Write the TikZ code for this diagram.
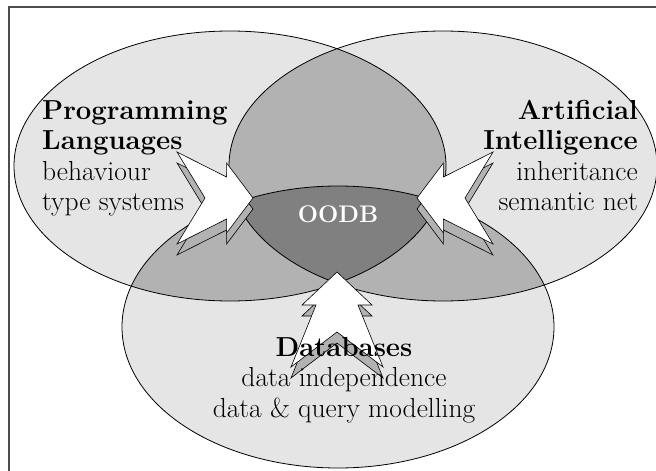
\documentclass[tikz,border=0pt]{standalone}
\usepackage{fontspec}
\usepackage{tikz}
\usetikzlibrary{math}
\definecolor{lightgrey}{gray}{0.9}
\definecolor{midgrey}{gray}{0.7}
\definecolor{darkgrey}{gray}{0.5}
\definecolor{framegrey}{gray}{0.3}
\tikzstyle{ring} = [draw=black, line width=0.8pt]
\tikzstyle{bolt} = [draw=black, line width=0.6pt, fill=white, line join=miter]
\tikzstyle{boltshadow} = [bolt, fill=midgrey]
\tikzstyle{lbl} = [inner sep=0pt, font=\fontsize{27.5}{30.5}\selectfont]

\begin{document}
\begin{tikzpicture}[x=1pt, y=-1pt]

  \tikzmath{\cxl = 230; \cxr = 443; \cxb = 338; \cyt = 166; \cyb = 327;}
  \tikzmath{\ra = 216; \rr = 214; \rb = 135; \rc = 141;}

  \useasboundingbox (0,0) rectangle (656,471);

  % the three rings
  \fill[lightgrey] (\cxl,\cyt) ellipse [x radius=\ra, y radius=\rb];
  \fill[lightgrey] (\cxr,\cyt) ellipse [x radius=\rr, y radius=\rb];
  \fill[lightgrey] (\cxb,\cyb) ellipse [x radius=\ra, y radius=\rc];

  % pairwise overlaps
  \begin{scope}
    \clip (\cxl,\cyt) ellipse [x radius=\ra, y radius=\rb];
    \fill[midgrey] (\cxr,\cyt) ellipse [x radius=\rr, y radius=\rb];
    \fill[midgrey] (\cxb,\cyb) ellipse [x radius=\ra, y radius=\rc];
  \end{scope}
  \begin{scope}
    \clip (\cxr,\cyt) ellipse [x radius=\rr, y radius=\rb];
    \fill[midgrey] (\cxb,\cyb) ellipse [x radius=\ra, y radius=\rc];
  \end{scope}

  % middle part
  \begin{scope}
    \clip (\cxl,\cyt) ellipse [x radius=\ra, y radius=\rb];
    \clip (\cxr,\cyt) ellipse [x radius=\rr, y radius=\rb];
    \fill[darkgrey] (\cxb,\cyb) ellipse [x radius=\ra, y radius=\rc];
  \end{scope}

  \draw[ring] (\cxl,\cyt) ellipse [x radius=\ra, y radius=\rb];
  \draw[ring] (\cxr,\cyt) ellipse [x radius=\rr, y radius=\rb];
  \draw[ring] (\cxb,\cyb) ellipse [x radius=\ra, y radius=\rc];

  % frame
  \draw[framegrey, line width=2pt] (9,471) -- (9,7) -- (656,7);

  % zigzag arrows, shadow first
  \foreach \px/\py/\ang/\sc in {253/198/0/0.8, 417/198/180/0.8, 337/272/90/1}{
    \draw[boltshadow, shift={(0,11)}, shift={(\px,\py)}, rotate=\ang, xscale=\sc]
      (0,0) -- (-33,35) -- (-33,21) -- (-95,46) -- (-60,0) -- (-95,-46) -- (-33,-21) -- (-33,-35) -- cycle;
    \draw[bolt, shift={(\px,\py)}, rotate=\ang, xscale=\sc]
      (0,0) -- (-33,35) -- (-33,21) -- (-95,46) -- (-60,0) -- (-95,-46) -- (-33,-21) -- (-33,-35) -- cycle;
  }

  % labels (base = last line)
  \node[lbl, anchor=base west, align=left] (pl) at (42,210.5)
    {\textbf{Programming}\\\textbf{Languages}\\behaviour\\type systems};
  \node[lbl, anchor=base east, align=right] (ai) at (638,210.5)
    {\textbf{Artificial}\\\textbf{Intelligence}\\inheritance\\semantic net};
  \node[lbl, anchor=base, align=center] (db) at (344,417)
    {\textbf{Databases}\\data independence\\data \& query modelling};
  \node[inner sep=0pt, anchor=base, text=white, font=\fontsize{24}{28}\selectfont\bfseries] (oodb) at (338,222) {OODB};

\end{tikzpicture}
\end{document}
